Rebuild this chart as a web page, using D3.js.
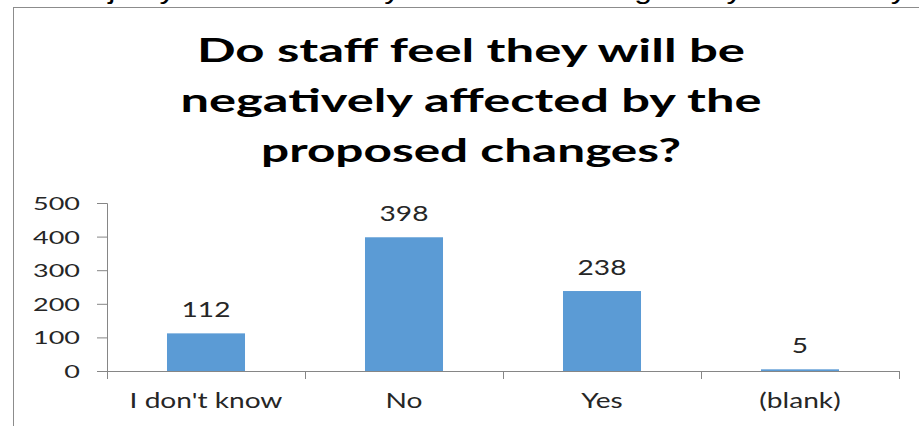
<!DOCTYPE html>
<html>
<head>
<meta charset="utf-8">
<script src="https://cdn.jsdelivr.net/npm/d3@7"></script>
<style>
  html, body { margin: 0; padding: 0; background: #fff; overflow: hidden; }
  svg { display: block; font-family: Lato, "Open Sans", sans-serif; }
</style>
</head>
<body>
<div id="chart"></div>
<script>
// data
const categories = ["I don't know", "No", "Yes", "(blank)"];
const counts = [112, 398, 238, 5];
const yTicks = [0, 100, 200, 300, 400, 500];
const titleLines = ["Do staff feel they will be", "negatively affected by the", "proposed changes?"];
const titleWidths = [548, 581, 420];
const captionText = "The majority of staff felt they would not be negatively affected by the";

const width = 919, height = 426;
const svg = d3.select("#chart").append("svg")
    .attr("width", width)
    .attr("height", height);

// text that sits above the chart, mostly cut off by the top edge
svg.append("text")
    .attr("x", 0)
    .attr("y", -1)
    .attr("fill", "#000")
    .style("font-family", "Arial, 'Liberation Sans', sans-serif")
    .style("font-size", "26px")
    .attr("textLength", 960)
    .attr("lengthAdjust", "spacingAndGlyphs")
    .text(captionText);

// chart frame, runs off the right and bottom edges
svg.append("rect")
    .attr("x", 13.5)
    .attr("y", 7.5)
    .attr("width", 1000)
    .attr("height", 1000)
    .attr("fill", "#fff")
    .attr("stroke", "#8c8c8c");

// title
const title = svg.append("g");
titleLines.forEach((line, i) => {
    title.append("text")
        .attr("x", 471)
        .attr("y", 62 + i * 50)
        .attr("text-anchor", "middle")
        .attr("fill", "#000")
        .style("font-size", "32px")
        .style("font-weight", "bold")
        .attr("textLength", titleWidths[i])
        .attr("lengthAdjust", "spacingAndGlyphs")
        .text(line);
});

const margin = { left: 107, right: 20, top: 203, bottom: 55 };
const x = d3.scaleBand()
    .domain(categories)
    .range([107, 899])
    .padding(0);

const y = d3.scaleLinear()
    .domain([0, 500])
    .range([371, 203]);

// measure a string so the squashed-looking text can be stretched like the picture
function measure(str, size) {
    const t = svg.append("text").style("font-size", size).text(str);
    const w = t.node().getComputedTextLength();
    t.remove();
    return w;
}
const tickStretch = 47 / measure("500", "18px");
const labelStretch = 153 / measure("I don't know", "21px");

// y axis
const yAxis = svg.append("g")
    .attr("transform", `translate(${x.range()[0]},0)`)
    .call(d3.axisLeft(y).tickValues(yTicks).tickSize(10).tickSizeOuter(10));
yAxis.selectAll("path, line").attr("stroke", "#868686");
yAxis.selectAll("text")
    .attr("x", 0)
    .attr("dy", "0.36em")
    .attr("transform", `translate(-27,0) scale(${tickStretch},1)`)
    .attr("fill", "#262626")
    .style("font-family", "Lato, sans-serif")
    .style("font-size", "18px");

// x axis line and category labels
const xAxis = svg.append("g")
    .attr("transform", `translate(0,${y(0)})`)
    .call(d3.axisBottom(x).tickSize(0).tickSizeOuter(0));
xAxis.select("path").attr("stroke", "#868686");
xAxis.selectAll("text")
    .attr("y", 0)
    .attr("dy", 0)
    .attr("transform", `translate(0,37) scale(${labelStretch},1)`)
    .attr("fill", "#262626")
    .style("font-family", "Lato, sans-serif")
    .style("font-size", "21px");
// labels are centred on the band, keep that centre after scaling
xAxis.selectAll(".tick text").attr("x", 0);

// tick marks at the category boundaries
const bounds = categories.map(c => x(c)).concat([x(categories[categories.length - 1]) + x.step()]);
svg.append("g")
    .selectAll("line")
    .data(bounds)
    .join("line")
    .attr("x1", d => Math.round(d) + 0.5)
    .attr("x2", d => Math.round(d) + 0.5)
    .attr("y1", y(0))
    .attr("y2", y(0) + 8)
    .attr("stroke", "#868686");

// bars
const barWidth = x.bandwidth() * 0.394;
svg.append("g")
    .selectAll("rect")
    .data(counts)
    .join("rect")
    .attr("x", (d, i) => x(categories[i]) + (x.bandwidth() - barWidth) / 2)
    .attr("y", d => y(d))
    .attr("width", barWidth)
    .attr("height", d => y(0) - y(d))
    .attr("fill", "#5b9bd5");

// value labels
svg.append("g")
    .selectAll("text")
    .data(counts)
    .join("text")
    .attr("text-anchor", "middle")
    .attr("transform", (d, i) => `translate(${x(categories[i]) + x.bandwidth() / 2},${y(d) - 16}) scale(${labelStretch},1)`)
    .attr("fill", "#262626")
    .style("font-size", "21px")
    .text(d => d);
</script>
</body>
</html>
